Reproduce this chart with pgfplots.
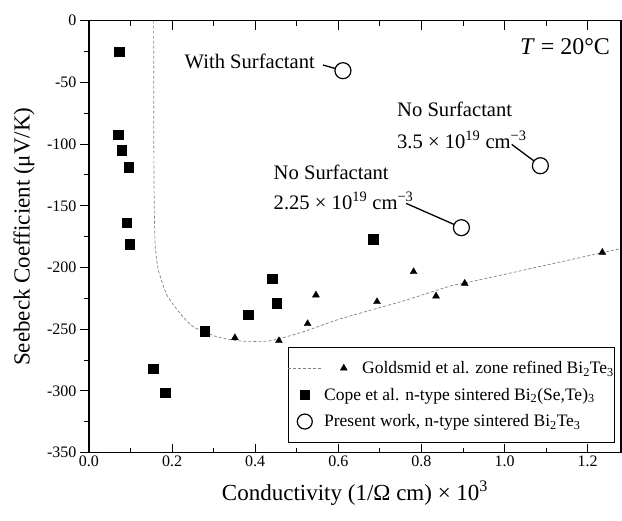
\documentclass[border=0pt]{standalone}
\usepackage{fontspec}
\setmainfont{Liberation Serif}
\usepackage{pgfplots}
\pgfplotsset{compat=1.18}

% Goldsmid zone refined curve (dashed guide)
\pgfplotstableread{
x y
0.1555 0
0.1557 -60
0.1562 -120
0.1575 -160
0.1595 -183
0.167 -202
0.187 -222
0.219 -237
0.251 -248
0.307 -256
0.364 -259.5
0.436 -259.3
0.516 -252
0.596 -242.5
0.684 -233.9
0.757 -227
0.869 -215
0.905 -212.5
1.0 -205.5
1.1 -198
1.234 -188
1.283 -184.4
}\curvedata

\pgfplotstableread{
x y
0.351 -256.9
0.457 -259.3
0.526 -245.5
0.546 -222.3
0.693 -227.7
0.781 -203.4
0.835 -223.1
0.904 -212.8
1.235 -187.7
}\goldsmid

\pgfplotstableread{
x y
0.073 -25.1
0.070 -92.6
0.079 -104.8
0.0955 -118.8
0.090 -163.7
0.098 -181.2
0.154 -282
0.183 -301.5
0.278 -251.5
0.383 -238
0.441 -208.8
0.451 -229
0.684 -176.9
}\cope

\pgfplotstableread{
x y
0.611 -40.5
1.086 -117.5
0.896 -167.7
}\present

\begin{document}
\begin{tikzpicture}
\begin{axis}[name=ax,
scale only axis,
width=532pt, height=432pt,
xmin=0, xmax=1.28,
ymin=-350, ymax=0,
xtick={0,0.2,...,1.2},
ytick={-350,-300,...,0},
minor x tick num=1,
minor y tick num=1,
xtick align=inside,
ytick align=outside,
major tick length=9pt,
minor tick length=5pt,
every tick/.style={black, line width=1pt},
axis line style={line width=1.3pt},
xticklabel style={/pgf/number format/.cd, fixed, fixed zerofill, precision=1},
/pgf/number format/assume math mode=true,
tick label style={font=\fontsize{16}{18}\selectfont},
xlabel={Conductivity (1/Ω cm) × 10\textsuperscript{3}},
ylabel={Seebeck Coefficient (μV/K)},
every axis x label/.style={at={(axis description cs:0.5,-0.0926)}, anchor=center,
  font=\fontsize{23}{26}\selectfont},
every axis y label/.style={at={(axis description cs:-0.122,0.5)}, anchor=center, rotate=90,
  font=\fontsize{23}{26}\selectfont},
legend cell align=left,
legend style={at={(axis description cs:0.989,0.023)}, anchor=south east,
  draw=black, line width=0.8pt, font=\fontsize{17.5}{19}\selectfont,
  row sep=9pt, inner xsep=-1pt, inner ysep=12pt},
]
\addplot[gray, line width=0.7pt, dash pattern=on 3pt off 2pt, smooth, tension=0.4, forget plot] table {\curvedata};

\addplot[only marks, mark=triangle*, mark size=4pt, black,
  legend image code/.code={
    \draw[gray, line width=0.7pt, dash pattern=on 3pt off 2pt] (0pt,0pt) -- (34pt,0pt);
    \begin{scope}[overlay, shift={(56pt,0pt)}]
    \pgfsetfillcolor{black}\pgfsetstrokecolor{black}\pgfsetdash{}{0pt}\pgfsetlinewidth{0.4pt}
    \pgfsetplotmarksize{4pt}\pgfuseplotmark{triangle*}
    \end{scope}}] table {\goldsmid};
\addlegendentry{\hspace{38pt}Goldsmid et al. zone refined Bi\textsubscript{2}Te\textsubscript{3}}

\addplot[only marks, mark=square*, mark size=4.7pt, black,
  legend image code/.code={
    \path[draw=none] (0pt,-1pt) rectangle (34pt,1pt);
    \begin{scope}[shift={(17pt,0pt)}]
    \pgfsetfillcolor{black}\pgfsetstrokecolor{black}\pgfsetlinewidth{0.4pt}
    \pgfsetplotmarksize{4.7pt}\pgfuseplotmark{square*}
    \end{scope}}] table {\cope};
\addlegendentry{Cope et al. n-type sintered Bi\textsubscript{2}(Se,Te)\textsubscript{3}}

% annotations
\node[anchor=east, font=\fontsize{20.6}{22}\selectfont, inner sep=0pt] at (axis cs:0.544,-33.2) {With Surfactant};
\draw[line width=1.3pt] (axis cs:0.563,-35.9) -- (axis cs:0.611,-40.5);
\node[anchor=west, font=\fontsize{20.6}{22}\selectfont, inner sep=0pt] at (axis cs:0.741,-71.8) {No Surfactant};
\node[anchor=west, font=\fontsize{20.6}{22}\selectfont, inner sep=0pt] at (axis cs:0.741,-96.7) {3.5 × 10\textsuperscript{19} cm\textsuperscript{−3}};
\draw[line width=1.3pt] (axis cs:1.017,-100.2) -- (axis cs:1.086,-117.5);
\node[anchor=west, font=\fontsize{20.6}{22}\selectfont, inner sep=0pt] at (axis cs:0.444,-122.9) {No Surfactant};
\node[anchor=west, font=\fontsize{20.6}{22}\selectfont, inner sep=0pt] at (axis cs:0.444,-146) {2.25 × 10\textsuperscript{19} cm\textsuperscript{−3}};
\draw[line width=1.3pt] (axis cs:0.763,-148) -- (axis cs:0.896,-167.7);
\node[anchor=east, font=\fontsize{24}{26}\selectfont, inner sep=0pt] at (axis cs:1.254,-21.1) {\textit{T} = 20°C};

\addplot[only marks, mark=*, mark size=8pt, black, line width=1.2pt, mark options={fill=white},
  legend image code/.code={
    \path[draw=none] (0pt,-1pt) rectangle (34pt,1pt);
    \begin{scope}[shift={(17pt,0pt)}]
    \pgfsetfillcolor{white}\pgfsetstrokecolor{black}\pgfsetlinewidth{1.2pt}
    \pgfsetplotmarksize{7.5pt}\pgfuseplotmark{*}
    \end{scope}}] table {\present};
\addlegendentry{Present work, n-type sintered Bi\textsubscript{2}Te\textsubscript{3}}
\end{axis}
\pgfresetboundingbox
\path[use as bounding box] (ax.south west) ++(-89pt,-68.3pt) rectangle ++(622pt,521pt);
\end{tikzpicture}
\end{document}
